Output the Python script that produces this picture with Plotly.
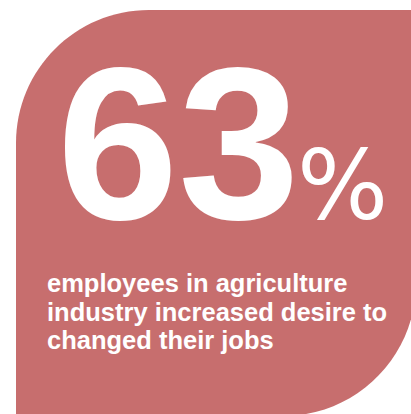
import plotly.graph_objects as go

# Headline statistic and caption
headline_value = "63"
headline_unit = "%"
caption_lines = [
    "employees in agriculture",
    "industry increased desire to",
    "changed their jobs",
]

W, H = 411, 414
card_color = "#c76e6e"

# Card with rounded top-left and bottom-right corners (cubic Bezier arcs)
x0, y0, x1, y1, r = 16, 10, 416, 416, 133
k = 0.5523 * r
card_path = (
    f"M {x0},{y0 + r} "
    f"C {x0},{y0 + r - k} {x0 + r - k},{y0} {x0 + r},{y0} "
    f"L {x1},{y0} L {x1},{y1 - r} "
    f"C {x1},{y1 - r + k} {x1 - r + k},{y1} {x1 - r},{y1} "
    f"L {x0},{y1} Z"
)

fig = go.Figure()
fig.add_trace(go.Scatter(x=[0, W], y=[0, H], mode="markers",
                         marker=dict(opacity=0), hoverinfo="skip",
                         showlegend=False))

fig.add_shape(type="path", path=card_path, xref="x", yref="y",
              fillcolor=card_color, line=dict(width=0), layer="below")

fig.add_annotation(x=178, y=143, xref="x", yref="y", xanchor="center",
                   yanchor="middle", showarrow=False, text=headline_value,
                   font=dict(family="Liberation Sans, Arial", size=218,
                             color="white", weight="bold"))
fig.add_annotation(x=295, y=186, xref="x", yref="y", xanchor="left",
                   yanchor="middle", showarrow=False, text=headline_unit,
                   font=dict(family="DejaVu Sans", size=96, color="white"))

caption_y = [283.2, 311.5, 339.7]
for line, yy in zip(caption_lines, caption_y):
    fig.add_annotation(x=45, y=yy, xref="x", yref="y", xanchor="left",
                       yanchor="middle", showarrow=False, text=line,
                       font=dict(family="Liberation Sans, Arial", size=25.5,
                                 color="white", weight="bold"))

fig.update_layout(
    width=W, height=H,
    margin=dict(l=0, r=0, t=0, b=0),
    paper_bgcolor="white", plot_bgcolor="white",
    xaxis=dict(range=[0, W], visible=False, fixedrange=True),
    yaxis=dict(range=[H, 0], visible=False, fixedrange=True),
    showlegend=False,
)

fig.write_html("out.html", config={"displayModeBar": False})
